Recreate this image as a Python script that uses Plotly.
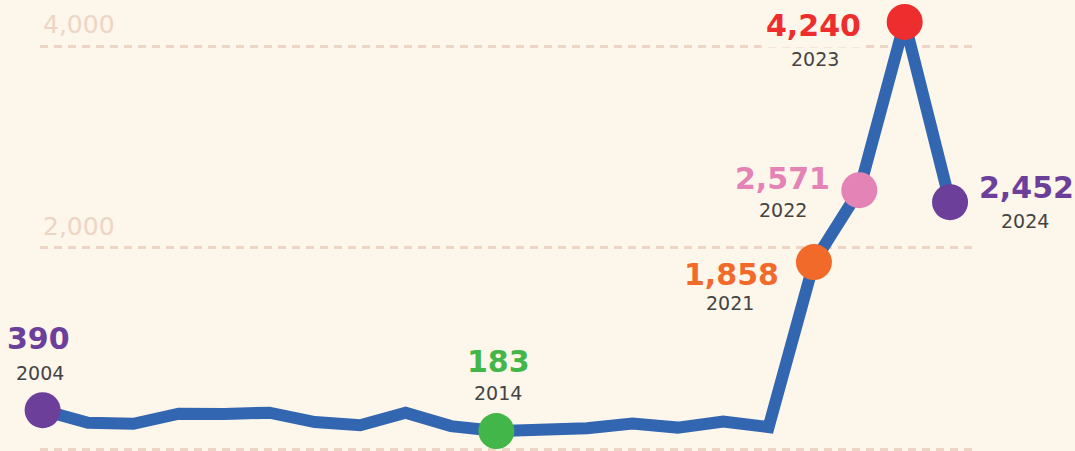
import plotly.graph_objects as go

years = list(range(2004, 2025))
values = [390, 265, 255, 355, 352, 365, 272, 240, 365, 232, 183,
          187, 210, 258, 217, 277, 222, 1858, 2571, 4240, 2452]

hl_years = [2004, 2014, 2021, 2022, 2023, 2024]
hl_colors = ["#6B3F9A", "#43B649", "#F26A2A", "#E483B5", "#EE2E2E", "#6B3F9A"]

tick_vals = [0, 2000, 4000]
tick_text = ["", "2,000", "4,000"]

BG = "#FDF6EB"
GRID = "#EDD5C5"

# label placement styles (px offsets): (num_dx, num_dy, yr_dx, yr_dy)
label_offsets = {
    2004: (-4, 72, -3, 37),
    2014: (2, 70, 2, 38),
    2021: (-82, -12, -84, -41),
    2022: (-77, 12, -76, -20),
    2023: (-91, -4, -90, -37),
    2024: (76, 15, 75, -19),
}

hl_vals = [values[years.index(y)] for y in hl_years]

fig = go.Figure()
fig.add_trace(go.Scatter(
    x=years, y=values, mode="lines",
    line=dict(color="#3366B0", width=12),
    cliponaxis=False, hoverinfo="skip", showlegend=False))
fig.add_trace(go.Scatter(
    x=hl_years, y=hl_vals, mode="markers",
    marker=dict(color=hl_colors, size=36, line=dict(width=0)),
    cliponaxis=False, showlegend=False))

annotations = []
for yr, v, c in zip(hl_years, hl_vals, hl_colors):
    ndx, ndy, ydx, ydy = label_offsets[yr]
    annotations.append(dict(
        x=yr, y=v, xref="x", yref="y", text=f"{v:,}", showarrow=False,
        xshift=ndx, yshift=ndy, xanchor="center", yanchor="middle",
        font=dict(family="DejaVu Sans", size=30, color=c, weight="bold"),
        bgcolor=BG, borderpad=4))
    annotations.append(dict(
        x=yr, y=v, xref="x", yref="y", text=str(yr), showarrow=False,
        xshift=ydx, yshift=ydy, xanchor="center", yanchor="middle",
        font=dict(family="DejaVu Sans", size=19, color="#444444")))

fig.update_layout(
    width=1075, height=451,
    margin=dict(l=40, r=97, t=0, b=0),
    paper_bgcolor=BG, plot_bgcolor=BG,
    annotations=annotations,
    xaxis=dict(range=[2003.942, 2024.616], showgrid=False, zeroline=False,
               showticklabels=False, showline=False, ticks=""),
    yaxis=dict(range=[-15, 4457], tickvals=tick_vals, ticktext=tick_text,
               showgrid=True, gridcolor=GRID, gridwidth=2.5, griddash="8px,6px",
               zeroline=False, showline=False, ticks="",
               ticklabelposition="inside", ticklabelshift=-22, ticklabelstandoff=0,
               tickfont=dict(family="DejaVu Sans", size=25, color="#EDD5C5")),
)

fig.write_html("out.html")
